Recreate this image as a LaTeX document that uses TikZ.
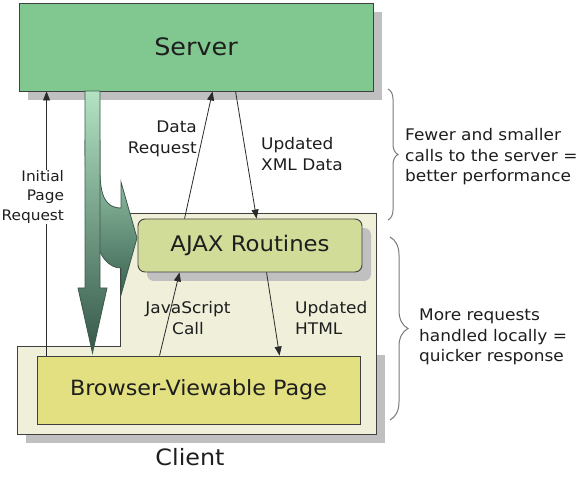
\documentclass[tikz,border=0pt]{standalone}
\usepackage{fontspec}
\setmainfont{DejaVu Sans}[FakeStretch=1.06]
\usetikzlibrary{arrows.meta,decorations.pathreplacing,shadows}
\definecolor{servergreen}{HTML}{80C890}
\definecolor{clientcream}{HTML}{EFEFDA}
\definecolor{pageyellow}{HTML}{E2E080}
\definecolor{ajaxgreen}{HTML}{D0DC98}
\definecolor{shadowgray}{HTML}{C0C0C0}
\definecolor{edgegray}{HTML}{404040}
\definecolor{txt}{HTML}{1E1E1E}
\definecolor{linegray}{HTML}{2A2A2A}
\definecolor{bracegray}{HTML}{7A7A7A}
\definecolor{arrowtop}{HTML}{B3E3C3}
\definecolor{arrowbot}{HTML}{35584A}
\definecolor{curvetop}{HTML}{A9D9B9}
\definecolor{curvebot}{HTML}{3A6252}
\definecolor{arrowedge}{HTML}{3C5A4C}
\tikzset{
  boxsty/.style={draw=edgegray, line width=0.9pt, text=txt, inner sep=0pt},
  shadowsty/.style={drop shadow={shadow xshift=9pt, shadow yshift=-9pt, fill=shadowgray, opacity=1}},
  lbl/.style={text=txt, font=\fontsize{16}{20.5}\selectfont, inner sep=1pt},
  conn/.style={draw=linegray, line width=0.8pt, -{Triangle[length=9pt,width=7pt]}},
  bracesty/.style={draw=bracegray, line width=1pt, decorate},
}
\begin{document}
\begin{tikzpicture}[x=1pt,y=-1pt]
\useasboundingbox (0,0) rectangle (576,481);
% client
\fill[shadowgray] (26,355) rectangle (385,443);
\draw[fill=clientcream, draw=edgegray, line width=0.9pt] (120,213) -- (376,213) -- (376,434) -- (17,434) -- (17,346) -- (120,346) -- cycle;
\node[text=txt, font=\fontsize{22.5}{26}\selectfont] (client) at (190,457) {Client};
% server
\node[boxsty, shadowsty, fill=servergreen, minimum width=354pt, minimum height=88pt,
      font=\fontsize{24}{28}\selectfont] (server) at (196,47) {Server};
% browser page
\node[boxsty, fill=pageyellow, minimum width=323pt, minimum height=68pt,
      font=\fontsize{21}{25}\selectfont] (browser) at (198.5,390) {Browser-Viewable Page};
% ajax
\node[boxsty, shadowsty, fill=ajaxgreen, rounded corners=7pt, minimum width=224pt, minimum height=53pt,
      font=\fontsize{21.5}{25}\selectfont] (ajax) at (250,245.5) {AJAX Routines};
% curved green arrow
\path[draw=arrowedge, line width=0.8pt, top color=curvetop, bottom color=curvebot]
  (85,140) .. controls (85,222) and (96,268) .. (121,268) -- (121,295) -- (137,238)
  -- (121,182) -- (121,208) .. controls (105,208) and (100,195) .. (100,170) -- (100,140) -- cycle;
% straight green arrow
\path[draw=arrowedge, line width=0.8pt, top color=arrowtop, bottom color=arrowbot]
  (85,91) -- (85,288) -- (78,288) -- (92.5,353) -- (107,288) -- (100,288) -- (100,91) -- cycle;
% connectors
\draw[conn] ([xshift=10pt]browser.north west) -- ([xshift=28pt]server.south west);
\node[lbl, fill=white, align=right, anchor=east, inner sep=0.3pt, font=\fontsize{14.5}{19.5}\selectfont] (lip) at (64.5,197) {Initial\\Page\\Request};
\draw[conn] ([xshift=47pt]ajax.north west) -- ([xshift=194pt]server.south west);
\node[lbl, align=right, anchor=east] (ldr) at (198,139) {Data\\Request};
\draw[conn] ([xshift=217pt]server.south west) -- ([xshift=119pt]ajax.north west);
\node[lbl, align=left, anchor=west] (lxml) at (260,154) {Updated\\XML Data};
\draw[conn] ([xshift=123pt]browser.north west) -- ([xshift=42pt]ajax.south west);
\node[lbl, align=center] (ljs) at (188,318) {JavaScript\\Call};
\draw[conn] ([xshift=129pt]ajax.south west) -- ([xshift=243pt]browser.north west);
\node[lbl, align=left, anchor=west] (lhtml) at (294,318) {Updated\\HTML};
% braces
\draw[bracesty, decoration={brace, amplitude=10pt}] (388,89) -- (388,220);
\node[lbl, align=left, anchor=west] (lfew) at (404,157) {Fewer and smaller\\calls to the server =\\better performance};
\draw[bracesty, decoration={brace, amplitude=18pt}] (390,237) -- (390,420);
\node[lbl, align=left, anchor=west] (lmore) at (418,337) {More requests\\handled locally =\\quicker response};
\end{tikzpicture}
\end{document}
